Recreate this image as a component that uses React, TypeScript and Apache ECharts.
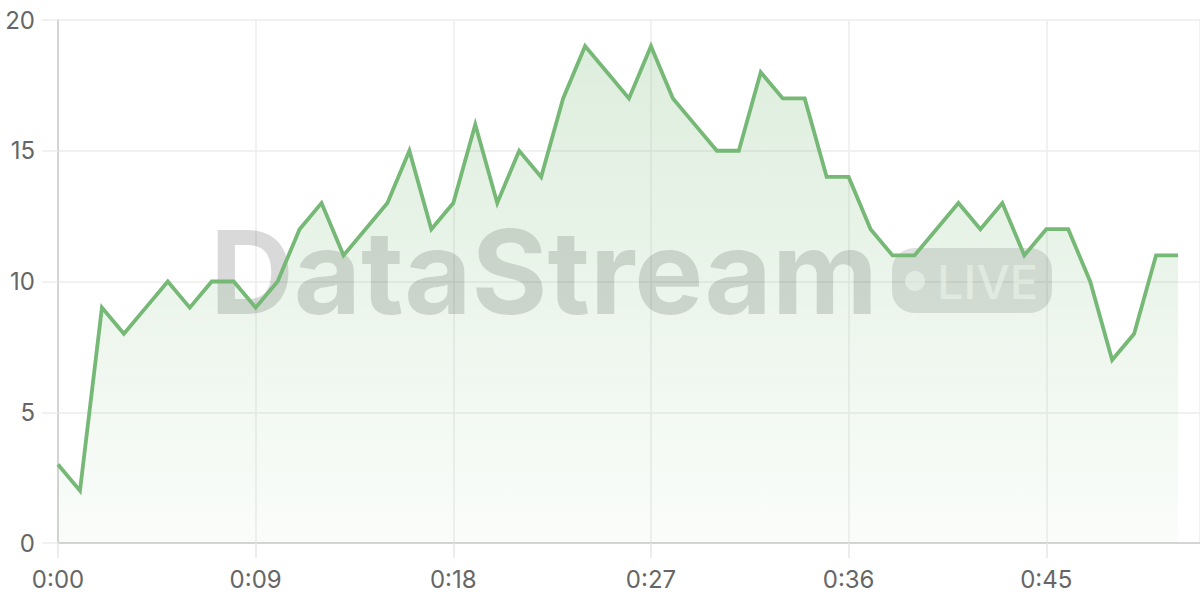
import { useEffect, useRef } from 'react';
import * as echarts from 'echarts';

// one reading per second, 0:00 .. 0:51
const seconds = Array.from({ length: 52 }, (_, i) => i);
const values = [
  3, 2, 9, 8, 9, 10, 9, 10, 10, 9,
  10, 12, 13, 11, 12, 13, 15, 12, 13, 16,
  13, 15, 14, 17, 19, 18, 17, 19, 17, 16,
  15, 15, 18, 17, 17, 14, 14, 12, 11, 11,
  12, 13, 12, 13, 11, 12, 12, 10, 7, 8,
  11, 11,
];
const xMax = 52;
const xStep = 9;
const yMax = 20;
const yStep = 5;

const fmtTime = (s: number) => `${Math.floor(s / 60)}:${String(s % 60).padStart(2, '0')}`;

const FONT = 'Inter, "Noto Sans", sans-serif';

export default function App() {
  const chartRef = useRef<HTMLDivElement>(null);

  useEffect(() => {
    document.body.style.margin = '0';
    if (!chartRef.current) return;
    const chart = echarts.init(chartRef.current, null, { renderer: 'svg' });

    const option = {
      animation: false,
      grid: { left: 58, right: 0, top: 20, bottom: 57 },
      xAxis: {
        type: 'value',
        min: 0,
        max: xMax,
        interval: xStep,
        axisLine: { show: true, lineStyle: { color: '#d4d4d4', width: 2 } },
        axisTick: { show: true, length: 15, lineStyle: { color: '#e6e6e6', width: 1.5 } },
        splitLine: { show: true, lineStyle: { color: '#ececec', width: 1.5 } },
        axisLabel: {
          margin: 24,
          color: '#666',
          fontSize: 24,
          fontFamily: FONT,
          showMaxLabel: false,
          formatter: (v: number) => fmtTime(v),
        },
      },
      yAxis: {
        type: 'value',
        min: 0,
        max: yMax,
        interval: yStep,
        axisLine: { show: true, lineStyle: { color: '#d4d4d4', width: 2 } },
        axisTick: { show: true, length: 16, lineStyle: { color: '#ececec', width: 1.5 } },
        splitLine: { show: true, lineStyle: { color: '#ececec', width: 1.5 } },
        axisLabel: { margin: 23, color: '#666', fontSize: 24, fontFamily: FONT },
      },
      graphic: [
        {
          type: 'text',
          z: 1,
          style: {
            text: 'DataStream',
            x: 210,
            y: 272,
            textVerticalAlign: 'middle',
            fill: 'rgba(0,0,0,0.15)',
            font: `bold 116px ${FONT}`,
          },
        },
        {
          type: 'rect',
          z: 1,
          shape: { x: 892, y: 248, width: 160, height: 65, r: 22 },
          style: { fill: 'rgba(0,0,0,0.12)' },
        },
        {
          type: 'circle',
          z: 1,
          shape: { cx: 915, cy: 281, r: 10 },
          style: { fill: 'rgba(255,255,255,0.6)' },
        },
        {
          type: 'text',
          z: 1,
          style: {
            text: 'LIVE',
            x: 937,
            y: 281,
            textVerticalAlign: 'middle',
            fill: 'rgba(255,255,255,0.6)',
            font: `500 47px ${FONT}`,
          },
        },
      ],
      series: [
        {
          type: 'line',
          z: 2,
          data: seconds.map((s, i) => [s, values[i]]),
          showSymbol: false,
          symbol: 'none',
          lineStyle: { color: '#76b876', width: 3.8, join: 'miter' },
          areaStyle: {
            color: new echarts.graphic.LinearGradient(0, 0, 0, 1, [
              { offset: 0, color: 'rgba(118,184,118,0.35)' },
              { offset: 1, color: 'rgba(118,184,118,0.05)' },
            ]),
          },
        },
      ],
    };

    chart.setOption(option);
    return () => chart.dispose();
  }, []);

  return <div ref={chartRef} style={{ width: 1200, height: 600 }} />;
}
